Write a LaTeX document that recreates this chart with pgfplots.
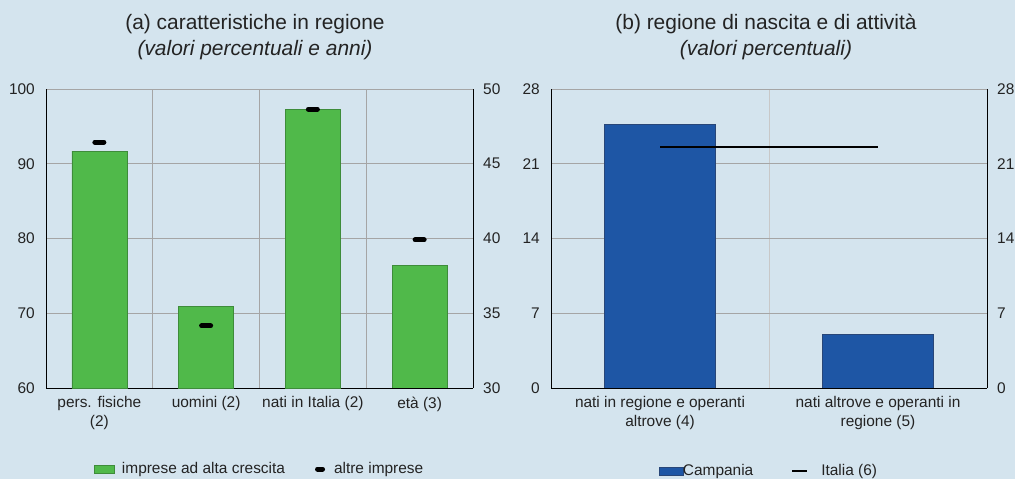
\documentclass[border=0pt]{standalone}
\usepackage{fontspec}
\setmainfont{Liberation Sans}
\usepackage{pgfplots}
\pgfplotsset{compat=1.18}

\definecolor{bgblue}{RGB}{212,228,238}
\definecolor{barGreen}{RGB}{80,185,74}
\definecolor{barGreenEdge}{RGB}{62,140,58}
\definecolor{barBlue}{RGB}{30,86,165}
\definecolor{barBlueEdge}{RGB}{40,70,120}
\definecolor{gridgray}{RGB}{165,165,165}
\definecolor{gridlight}{RGB}{200,200,200}
\definecolor{txt}{RGB}{35,35,35}

\pgfplotsset{
  panel/.style={
    scale only axis, height=299bp,
    font=\fontsize{15.5}{19}\selectfont,
    /pgf/number format/assume math mode=true,
    major tick length=0pt, minor tick length=0pt,
    tick style={draw=none},
    axis line style={-, black, line width=0.8bp},
    tick label style={text=txt},
    xticklabel style={anchor=north, align=center, inner sep=0pt, yshift=-8.5bp},
    grid style={gridgray, line width=0.6bp},
  },
  leftticks/.style={yticklabel style={anchor=east, inner sep=0pt, xshift=-11bp}},
  rightticks/.style={yticklabel style={anchor=west, inner sep=0pt, xshift=10bp}},
}

\begin{document}
\begin{tikzpicture}
\fill[bgblue] (0,0) rectangle (1015bp,479bp);
\useasboundingbox (0,0) rectangle (1015bp,479bp);

% titles
\node[font=\fontsize{21}{25}\selectfont, text=txt, anchor=base] at (255bp,449bp) {(a) caratteristiche in regione};
\node[font=\fontsize{21}{25}\selectfont\itshape, text=txt, anchor=base] at (255bp,423bp) {(valori percentuali e anni)};
\node[font=\fontsize{21}{25}\selectfont, text=txt, anchor=base] at (766bp,449bp) {(b) regione di nascita e di attività};
\node[font=\fontsize{21}{25}\selectfont\itshape, text=txt, anchor=base] at (766bp,423bp) {(valori percentuali)};

% ---------- panel (a): percentages on the left scale ----------
\begin{axis}[panel, leftticks,
  at={(46bp,91bp)}, anchor=south west, width=427bp,
  xmin=-0.5, xmax=3.5, ymin=60, ymax=100,
  ytick={60,70,...,100},
  xtick={0,1,2,3},
  xticklabels={{pers. fisiche\\(2)},{uomini (2)},{nati in Italia (2)},{età (3)}},
  minor xtick={0.5,1.5,2.5}, xminorgrids, ymajorgrids,
  minor grid style={gridgray, line width=0.6bp},
  axis x line*=bottom, axis y line*=left,
  legend columns=2,
  legend style={at={(0.5,-0.271)}, anchor=center, draw=none, fill=none,
    font=\fontsize{15.5}{19}\selectfont, text=txt,
    /tikz/every even column/.append style={column sep=28bp}},
]
\addplot[ybar, bar width=0.515, fill=barGreen, draw=barGreenEdge, line width=0.5bp,
  legend image code/.code={\draw[fill=barGreen, draw=barGreenEdge] (0bp,-4bp) rectangle (20bp,4bp);
    \path[draw=none, fill=none] (0bp,0bp) -- (26bp,0bp);}]
  coordinates {(0,91.7) (1,70.9) (2,97.3)};
\addlegendentry{imprese ad alta crescita}
\addplot[only marks, mark=-, mark size=4.5bp, mark options={black, line width=5bp, line cap=round},
  legend image code/.code={\draw[black, line width=5bp, line cap=round] (2.5bp,0bp) -- (7.5bp,0bp);
    \path[draw=none, fill=none] (0bp,0bp) -- (17bp,0bp);}]
  coordinates {(0,92.9) (1,68.3) (2,97.3)};
\addlegendentry{altre imprese}
\end{axis}

% panel (a): age in years on the right scale
\begin{axis}[panel, rightticks,
  at={(46bp,91bp)}, anchor=south west, width=427bp,
  xmin=-0.5, xmax=3.5, ymin=30, ymax=50,
  ytick={30,35,...,50},
  axis x line=none, axis y line*=right,
]
\addplot[ybar, bar width=0.515, fill=barGreen, draw=barGreenEdge, line width=0.5bp]
  coordinates {(3,38.2)};
\addplot[only marks, mark=-, mark size=4.5bp, mark options={black, line width=5bp, line cap=round}]
  coordinates {(3,39.9)};
\end{axis}

% ---------- panel (b) ----------
\begin{axis}[panel, leftticks,
  at={(551bp,91bp)}, anchor=south west, width=436bp,
  xmin=-0.5, xmax=1.5, ymin=0, ymax=28,
  ytick={0,7,...,28},
  xtick={0,1},
  xticklabels={{nati in regione e operanti\\altrove (4)},{nati altrove e operanti in\\regione (5)}},
  minor xtick={0.5}, xminorgrids, ymajorgrids,
  minor grid style={gridlight, line width=0.6bp},
  axis x line*=bottom, axis y line*=left,
  legend columns=2,
  legend style={at={(0.5,-0.278)}, anchor=center, draw=none, fill=none,
    font=\fontsize{15.5}{19}\selectfont, text=txt,
    /tikz/every even column/.append style={column sep=36bp}},
]
\addplot[ybar, bar width=0.51, fill=barBlue, draw=barBlueEdge, line width=0.5bp,
  legend image code/.code={\draw[overlay, fill=barBlue, draw=barBlueEdge] (0bp,-4bp) rectangle (24bp,4bp);
    \path[draw=none, fill=none] (0bp,-4bp) rectangle (22bp,4bp);}]
  coordinates {(0,24.7) (1,5.0)};
\addlegendentry{Campania}
\addplot[black, line width=2bp,
  legend image code/.code={\draw[black, line width=2bp] (0bp,0bp) -- (15bp,0bp);
    \path[draw=none, fill=none] (0bp,0bp) -- (27bp,0bp);}]
  coordinates {(0,22.6) (1,22.6)};
\addlegendentry{Italia (6)}
\end{axis}

\begin{axis}[panel, rightticks,
  at={(551bp,91bp)}, anchor=south west, width=436bp,
  xmin=-0.5, xmax=1.5, ymin=0, ymax=28,
  ytick={0,7,...,28},
  axis x line=none, axis y line*=right,
]
\addplot[draw=none] coordinates {(0,0)};
\end{axis}
\end{tikzpicture}
\end{document}
